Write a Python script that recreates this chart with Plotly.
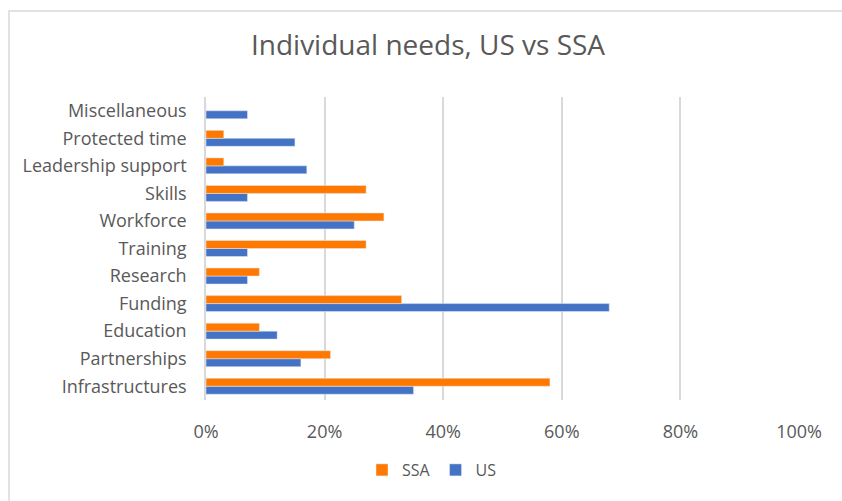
import plotly.graph_objects as go

categories = ["Infrastructures", "Partnerships", "Education", "Funding", "Research",
              "Training", "Workforce", "Skills", "Leadership support",
              "Protected time", "Miscellaneous"]
us_values = [0.35, 0.16, 0.12, 0.68, 0.07, 0.07, 0.25, 0.07, 0.17, 0.15, 0.07]
ssa_values = [0.58, 0.21, 0.09, 0.33, 0.09, 0.27, 0.30, 0.27, 0.03, 0.03, 0.0]
x_ticks = [0, 0.2, 0.4, 0.6, 0.8, 1.0]
x_tick_labels = ["0%", "20%", "40%", "60%", "80%", "100%"]

W, H = 842, 501
L, R, T, B = 206, 43, 97, 101
pw, ph = W - L - R, H - T - B

def px_x(p):
    return (p - L) / pw

def px_y(p):
    return (H - B - p) / ph

fig = go.Figure()
fig.add_trace(go.Bar(y=categories, x=us_values, orientation="h", name="US",
                     marker=dict(color="#4472C4")))
fig.add_trace(go.Bar(y=categories, x=ssa_values, orientation="h", name="SSA",
                     marker=dict(color="#FF7800")))

fig.add_shape(type="rect", xref="paper", yref="paper",
              x0=px_x(9), x1=px_x(850), y0=px_y(510), y1=px_y(11),
              line=dict(color="#D9D9D9", width=1.5), fillcolor="rgba(0,0,0,0)",
              layer="below")

fig.update_layout(
    width=W, height=H,
    margin=dict(l=L, r=R, t=T, b=B),
    paper_bgcolor="white", plot_bgcolor="white",
    barmode="group", bargap=0.42, bargroupgap=0,
    font=dict(family="Open Sans, Liberation Sans, sans-serif", color="#595959", size=17),
    title=dict(text="Individual needs, US vs SSA", x=428 / W, xanchor="center",
               y=1 - 45 / H, yanchor="middle",
               font=dict(size=28, color="#595959")),
    legend=dict(orientation="h", traceorder="reversed", x=px_x(362), xanchor="left",
                y=px_y(470), yanchor="middle", font=dict(size=16, color="#595959"),
                itemwidth=30),
    showlegend=True,
)
fig.update_xaxes(range=[0, 1], tickvals=x_ticks, ticktext=x_tick_labels,
                 showgrid=True, gridcolor="#D9D9D9", gridwidth=1.5,
                 zeroline=False, showline=False,
                 ticks="outside", ticklen=15, tickcolor="rgba(0,0,0,0)",
                 tickfont=dict(size=18, color="#595959"))
fig.update_yaxes(categoryorder="array", categoryarray=categories,
                 showgrid=False, showline=True, linecolor="#D9D9D9", linewidth=1.5,
                 ticks="outside", ticklen=14, tickcolor="rgba(0,0,0,0)",
                 tickfont=dict(size=18, color="#595959"))

fig.write_html("out.html")
